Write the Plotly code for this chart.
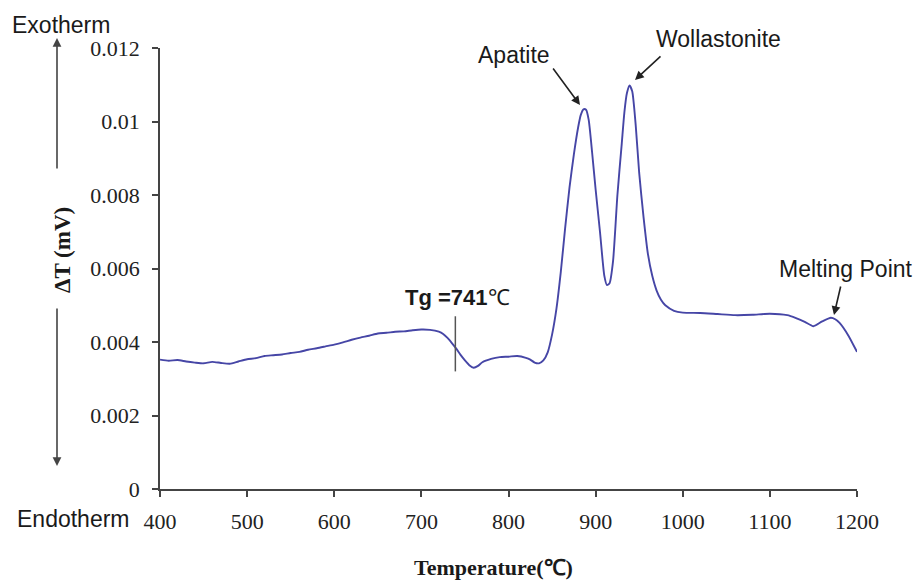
import plotly.graph_objects as go

# ---- data ----
temperature = [400, 410, 420, 430, 440, 450, 460, 470, 480, 490, 500, 510, 520, 530, 540,
               550, 560, 570, 580, 590, 600, 610, 620, 630, 640, 650, 660, 670, 680, 690,
               700, 710, 720, 725, 730, 735, 740, 745, 750, 755, 760, 765, 770, 780, 790,
               800, 810, 820, 825, 830, 835, 840, 845, 850, 855, 860, 865, 870, 875, 880,
               883, 886, 889, 892, 896, 900, 905, 910, 913, 916, 920, 925, 930, 933, 936,
               939, 942, 946, 950, 955, 960, 965, 970, 975, 980, 990, 1000, 1020, 1040, 1060,
               1080, 1100, 1120, 1130, 1140, 1150, 1160, 1170, 1175, 1180, 1190, 1200]
delta_t = [0.00352, 0.00349, 0.00351, 0.00347, 0.00344, 0.00342, 0.00346, 0.00343, 0.00341,
           0.00347, 0.00353, 0.00356, 0.00362, 0.00364, 0.00366, 0.00370, 0.00373, 0.00379,
           0.00383, 0.00388, 0.00393, 0.00399, 0.00406, 0.00412, 0.00417, 0.00423, 0.00425,
           0.00428, 0.00429, 0.00432, 0.00434, 0.00433, 0.00428, 0.00422, 0.00411, 0.00397,
           0.00382, 0.00365, 0.00350, 0.00337, 0.00330, 0.00335, 0.00345, 0.00354, 0.00359,
           0.00360, 0.00362, 0.00357, 0.00352, 0.00344, 0.00342, 0.00350, 0.00372, 0.00420,
           0.00490, 0.00590, 0.00710, 0.00820, 0.00910, 0.00985, 0.01018, 0.01033, 0.01032,
           0.01005, 0.00915, 0.00815, 0.00700, 0.00580, 0.00555, 0.00560, 0.00620, 0.00800,
           0.00940, 0.01025, 0.01078, 0.01098, 0.01082, 0.00990, 0.00860, 0.00740, 0.00640,
           0.00580, 0.00540, 0.00515, 0.00500, 0.00485, 0.00480, 0.00479, 0.00476, 0.00473,
           0.00474, 0.00477, 0.00473, 0.00465, 0.00455, 0.00443, 0.00456, 0.00466, 0.00462,
           0.00452, 0.00418, 0.00373]

x_ticks = [400, 500, 600, 700, 800, 900, 1000, 1100, 1200]
x_tick_labels = ["400", "500", "600", "700", "800", "900", "1000", "1100", "1200"]
y_ticks = [0, 0.002, 0.004, 0.006, 0.008, 0.01, 0.012]
y_tick_labels = ["0", "0.002", "0.004", "0.006", "0.008", "0.01", "0.012"]

tg_value = 739
tg_line_range = [0.0032, 0.0047]

# ---- layout geometry (pixels) ----
W, H = 917, 581
L, R, T, B = 160, 60, 48, 92
PW, PH = W - L - R, H - T - B


def px(x):
    return (x - L) / PW


def py(y):
    return (H - B - y) / PH


SANS = "Liberation Sans, Arial, sans-serif"
SERIF = "Liberation Serif, Times New Roman, serif"
AX = "#444444"

fig = go.Figure()
fig.add_trace(go.Scatter(
    x=temperature, y=delta_t, mode="lines",
    line=dict(color="#4646a6", width=1.9, shape="spline", smoothing=0.6),
    showlegend=False, hoverinfo="skip"))

fig.add_shape(type="line", xref="x", yref="y", x0=tg_value, x1=tg_value,
              y0=tg_line_range[0], y1=tg_line_range[1],
              line=dict(color="#555555", width=1.5))

ann = []


def text(t, x, y, size, font, angle=0, color="#1a1a1a"):
    ann.append(dict(text=t, xref="paper", yref="paper", x=px(x), y=py(y),
                    xanchor="center", yanchor="middle", showarrow=False,
                    textangle=angle,
                    font=dict(family=font, size=size, color=color)))


def arrow(tipx, tipy, tailx, taily, color="#222222", width=1.6):
    ann.append(dict(text="", xref="paper", yref="paper", x=px(tipx), y=py(tipy),
                    ax=tailx - tipx, ay=taily - tipy, axref="pixel", ayref="pixel",
                    showarrow=True, arrowhead=2, arrowsize=1.1, arrowwidth=width,
                    arrowcolor=color, standoff=0, startstandoff=0))


text("Exotherm", 61, 25, 23, SANS)
text("Endotherm", 73, 519, 23, SANS)
text("<b>ΔT (mV)</b>", 62, 250, 23, SERIF, angle=-90)
text("<b>Temperature(℃)</b>", 493, 567, 22, SERIF)
text("Apatite", 514, 55, 23, SANS)
text("Wollastonite", 718, 39, 23, SANS)
text("Melting Point", 846, 269, 23, SANS)
text("<b>Tg =741</b>℃", 457, 297, 22, SANS)

arrow(57, 38, 57, 170, color="#444444", width=1.6)
arrow(57, 466, 57, 307, color="#444444", width=1.6)
arrow(580, 105, 552, 67)
arrow(635, 80, 662, 55)
arrow(834, 315, 841, 285)

fig.update_layout(
    width=W, height=H,
    margin=dict(l=L, r=R, t=T, b=B, autoexpand=False),
    paper_bgcolor="white", plot_bgcolor="white",
    annotations=ann,
    xaxis=dict(range=[400, 1200], tickvals=x_ticks, ticktext=x_tick_labels,
               showgrid=False, zeroline=False, showline=True, linecolor=AX, linewidth=1.5,
               ticks="outside", ticklen=6, tickwidth=1.5, tickcolor=AX,
               tickfont=dict(family=SERIF, size=22, color="#222222"),
               ticklabelstandoff=6),
    yaxis=dict(range=[0, 0.012], tickvals=y_ticks, ticktext=y_tick_labels,
               showgrid=False, zeroline=False, showline=True, linecolor=AX, linewidth=1.5,
               ticks="outside", ticklen=6, tickwidth=1.5, tickcolor=AX,
               tickfont=dict(family=SERIF, size=22, color="#222222"),
               ticklabelstandoff=8),
)

fig.write_html("out.html")
